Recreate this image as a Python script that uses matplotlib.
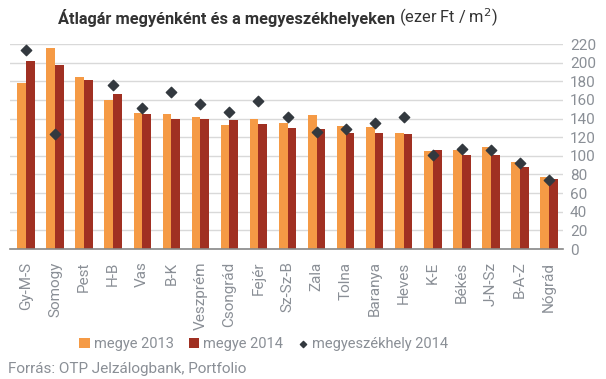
import matplotlib.pyplot as plt
import numpy as np

plt.rcParams['font.family'] = ['Roboto', 'DejaVu Sans']

# Adatok (ezer Ft / m2)
megyek = ['Gy-M-S', 'Somogy', 'Pest', 'H-B', 'Vas', 'B-K', 'Veszprém', 'Csongrád',
          'Fejér', 'Sz-Sz-B', 'Zala', 'Tolna', 'Baranya', 'Heves', 'K-E', 'Békés',
          'J-N-Sz', 'B-A-Z', 'Nógrád']
megye_2013 = [178, 216, 185, 160, 146, 145, 142, 133, 139, 135, 144, 132, 131, 124,
              105.5, 106.5, 110, 93, 77.5]
megye_2014 = [202, 198, 181, 166, 145, 140, 139, 138, 134.5, 130, 129, 125, 124, 123,
              106.5, 101, 101, 87.5, 75.5]
szekhely_2014 = [214, 123, None, 176, 151, 169, 156, 147, 158.5, 142, 125.5, 129, 135,
                 142, 101, 107.5, 106.5, 92.5, 74.5]

c13 = '#F59A45'
c14 = '#A03022'
cdot = '#33393F'
grey = '#8A8F96'

fig = plt.figure(figsize=(6.06, 3.79), dpi=100)
ax = fig.add_axes([10 / 606, 1 - 249 / 379, 553 / 606, 205 / 379])

x = np.arange(len(megyek))
w = 0.3
b1 = ax.bar(x - w / 2, megye_2013, width=w, color=c13, label='megye 2013', zorder=2)
b2 = ax.bar(x + w / 2, megye_2014, width=w, color=c14, label='megye 2014', zorder=2)

sx = [i for i, v in zip(x, szekhely_2014) if v is not None]
sy = [v for v in szekhely_2014 if v is not None]
sc = ax.scatter(sx, sy, marker='D', s=28, color=cdot, zorder=3, label='megyeszékhely 2014')

ax.set_xlim(-0.55, 18.48)
ax.set_ylim(0, 220)
ax.set_yticks(np.arange(0, 221, 20))
ax.yaxis.tick_right()
ax.tick_params(axis='y', length=0, pad=5, labelsize=11, labelcolor=grey)
ax.set_xticks(x)
ax.set_xticklabels(megyek, rotation=90, va='top', ha='center')
ax.tick_params(axis='x', length=0, pad=9, labelsize=11, labelcolor=grey)
ax.grid(axis='y', color='#D9D9D9', linewidth=1, zorder=0)
for s in ['top', 'left', 'right']:
    ax.spines[s].set_visible(False)
ax.spines['bottom'].set_color('#888888')
ax.spines['bottom'].set_linewidth(1.2)
ax.spines['bottom'].set_zorder(4)

ax.legend([b1, b2, sc], ['megye 2013', 'megye 2014', 'megyeszékhely 2014'],
          loc='center', bbox_to_anchor=(264 / 606, 1 - 344 / 379),
          bbox_transform=fig.transFigure, ncol=3, frameon=False, fontsize=10.5,
          handlelength=0.7, handleheight=0.7, handletextpad=0.3, columnspacing=1.0,
          labelcolor=grey, markerscale=0.6)

# Cím: félkövér + normál rész
t1 = fig.text(58 / 606, 1 - 18 / 379, 'Átlagár megyénként és a megyeszékhelyeken',
              fontsize=11.8, fontweight='bold', color='#333333', va='center', ha='left')
fig.canvas.draw()
bb = t1.get_window_extent()
fig.text(bb.x1 / fig.bbox.width + 0.006, 1 - 18 / 379, '(ezer Ft / m$^2$)',
         fontsize=11.8, color='#333333', va='center', ha='left')

fig.text(8 / 606, 1 - 369 / 379, 'Forrás: OTP Jelzálogbank, Portfolio',
         fontsize=11, color=grey, va='center', ha='left')

fig.savefig('out.png', dpi=100)
